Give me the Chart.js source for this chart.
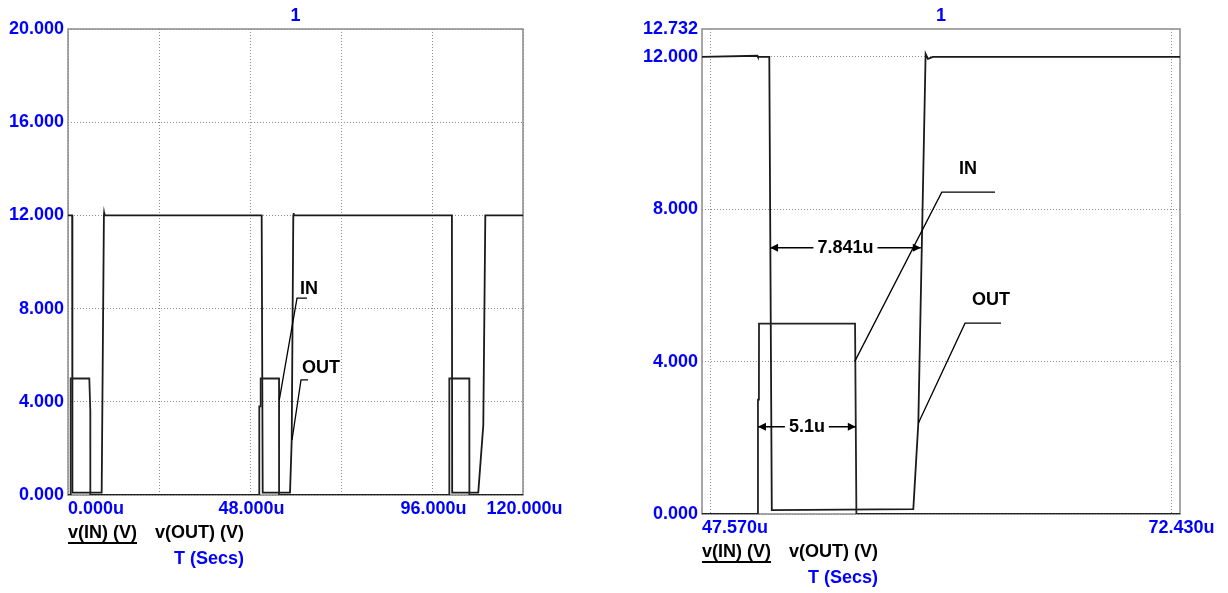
<!DOCTYPE html>
<html>
<head>
<meta charset="utf-8">
<script src="https://cdn.jsdelivr.net/npm/chart.js@4.4.1/dist/chart.umd.min.js"></script>
<style>
  html, body { margin: 0; padding: 0; background: #fff; }
  #wrap { position: relative; width: 1228px; height: 593px; }
  .panel { position: absolute; top: 0; width: 614px; height: 593px; }
</style>
</head>
<body>
<div id="wrap">
  <div class="panel" style="left:0"><canvas id="fullChart" width="614" height="593"></canvas></div>
  <div class="panel" style="left:614px"><canvas id="zoomChart" width="614" height="593"></canvas></div>
</div>
<script>
// times in us, values in volts

// left plot: whole run 0..120u
var fullInT  = [0, 0.70, 0.71, 5.62, 5.88, 5.89, 50.44, 50.45, 50.80, 50.82, 55.65, 55.67, 100.55, 100.57, 105.84, 105.86, 120];
var fullInV  = [0, 0, 5, 5, 3.65, 0, 0, 3.8, 3.8, 5, 5, 0, 0, 5, 5, 0, 0];
var fullOutT = [0, 1.10, 1.16, 8.88, 9.47, 9.52, 9.62, 51.08, 51.35, 58.55, 59.00, 59.42, 59.47, 59.57, 101.25, 101.32, 108.20, 109.53, 110.06, 120];
var fullOutV = [12, 12, 0.1, 0.1, 12, 12.1, 12, 12, 0.1, 0.1, 2.36, 12, 12.1, 12, 12, 0.1, 0.1, 3.0, 12, 12];
var fullGridX  = [0, 24, 48, 72, 96, 120];
var fullLabelX = [0, 48, 96, 120];
var fullGridY  = [0, 4, 8, 12, 16, 20];
var fullLabelY = [0, 4, 8, 12, 16, 20];

// right plot: zoom 47.57u..72.43u
var zoomInT  = [47.57, 50.475, 50.48, 50.53, 50.535, 55.53, 55.60, 72.43];
var zoomInV  = [0, 0, 3.0, 3.0, 5.0, 5.0, 0, 0];
var zoomOutT = [47.57, 50.45, 50.48, 51.07, 51.20, 58.56, 58.82, 59.20, 59.32, 59.58, 72.43];
var zoomOutV = [12.0, 12.03, 12.0, 12.0, 0.1, 0.13, 2.38, 12.08, 11.95, 12.0, 12.0];
var zoomGridX  = [48, 72];
var zoomLabelX = [47.57, 72.43];
var zoomGridY  = [0, 4, 8, 12];
var zoomLabelY = [0, 4, 8, 12, 12.732];

var BLUE = '#0000ff';
var FONT = 'bold 18px "Liberation Sans", Arial, sans-serif';

function pts(t, v) {
  return t.map(function (x, i) { return { x: x, y: v[i] }; });
}

function arrowHead(ctx, x, y, dir) {
  ctx.beginPath();
  ctx.moveTo(x, y);
  ctx.lineTo(x - dir * 8, y - 4);
  ctx.lineTo(x - dir * 8, y + 4);
  ctx.closePath();
  ctx.fill();
}

function scopePlugin(cfg) {
  return {
    id: 'scope',
    beforeDatasetsDraw: function (chart) {
      var a = chart.chartArea, ctx = chart.ctx;
      ctx.save();
      ctx.strokeStyle = '#8a8a8a';
      ctx.lineWidth = 1.5;
      ctx.strokeRect(a.left, a.top, a.right - a.left, a.bottom - a.top);
      ctx.restore();
    },
    afterDraw: function (chart) {
      var a = chart.chartArea, ctx = chart.ctx;
      var xs = chart.scales.x, ys = chart.scales.y;
      ctx.save();
      ctx.font = FONT;
      ctx.textBaseline = 'middle';

      // title
      ctx.fillStyle = BLUE;
      ctx.textAlign = 'center';
      ctx.fillText('1', (a.left + a.right) / 2, 16);

      // y tick labels
      ctx.textAlign = 'right';
      cfg.labelY.forEach(function (v) {
        ctx.fillText(v.toFixed(3), a.left - 4, ys.getPixelForValue(v));
      });

      // x tick labels
      cfg.labelX.forEach(function (v, i) {
        ctx.textAlign = i === 0 ? 'left' : 'center';
        var x = xs.getPixelForValue(v) + (i === 0 ? 0 : 1.5);
        ctx.fillText(v.toFixed(3) + 'u', x, a.bottom + 14);
      });

      // trace names and axis name
      ctx.fillStyle = '#000';
      ctx.textAlign = 'left';
      var yLeg = a.bottom + 38;
      var wIn = ctx.measureText('v(IN) (V)').width;
      ctx.fillText('v(IN) (V)', a.left, yLeg);
      ctx.fillRect(a.left, yLeg + 9, wIn, 2);
      var xOut = a.left + wIn + 18;
      ctx.fillText('v(OUT) (V)', xOut, yLeg);
      var wOut = ctx.measureText('v(OUT) (V)').width;
      ctx.fillStyle = BLUE;
      ctx.textAlign = 'right';
      ctx.fillText('T (Secs)', xOut + wOut, a.bottom + 64);

      // callouts
      ctx.fillStyle = '#000';
      ctx.strokeStyle = '#000';
      ctx.lineWidth = 1.3;
      cfg.callouts.forEach(function (c) {
        ctx.beginPath();
        ctx.moveTo(xs.getPixelForValue(c.at[0]), ys.getPixelForValue(c.at[1]));
        ctx.lineTo(xs.getPixelForValue(c.elbow[0]), ys.getPixelForValue(c.elbow[1]));
        ctx.lineTo(xs.getPixelForValue(c.end), ys.getPixelForValue(c.elbow[1]));
        ctx.stroke();
        ctx.textAlign = 'left';
        ctx.fillText(c.text, xs.getPixelForValue(c.label[0]), ys.getPixelForValue(c.label[1]));
      });

      // time measurements
      (cfg.measures || []).forEach(function (m) {
        var x1 = xs.getPixelForValue(m.t1), x2 = xs.getPixelForValue(m.t2);
        var y = ys.getPixelForValue(m.v);
        var xm = (x1 + x2) / 2;
        var w = ctx.measureText(m.text).width;
        ctx.lineWidth = 1.5;
        ctx.beginPath();
        ctx.moveTo(x1, y); ctx.lineTo(xm - w / 2 - 4, y);
        ctx.moveTo(xm + w / 2 + 4, y); ctx.lineTo(x2, y);
        ctx.stroke();
        arrowHead(ctx, x1, y, -1);
        arrowHead(ctx, x2, y, 1);
        ctx.textAlign = 'center';
        ctx.fillText(m.text, xm, y);
      });
      ctx.restore();
    }
  };
}

function makeChart(id, cfg) {
  var tickSetter = function (list) {
    return function (s) { s.ticks = list.map(function (v) { return { value: v }; }); };
  };
  return new Chart(document.getElementById(id), {
    type: 'line',
    data: {
      datasets: [
        { label: 'v(IN)', data: pts(cfg.inT, cfg.inV), borderColor: '#222', borderWidth: 1.8,
          pointRadius: 0, tension: 0, fill: false },
        { label: 'v(OUT)', data: pts(cfg.outT, cfg.outV), borderColor: '#1a1a1a', borderWidth: 1.8,
          pointRadius: 0, tension: 0, fill: false }
      ]
    },
    options: {
      responsive: false,
      animation: false,
      layout: { padding: cfg.padding },
      plugins: { legend: { display: false }, tooltip: { enabled: false } },
      scales: {
        x: {
          type: 'linear', min: cfg.xMin, max: cfg.xMax,
          afterBuildTicks: tickSetter(cfg.gridX),
          ticks: { display: false },
          grid: { color: '#8f8f8f', lineWidth: 1, drawTicks: false },
          border: { display: false, dash: [1, 2] }
        },
        y: {
          type: 'linear', min: 0, max: cfg.yMax,
          afterBuildTicks: tickSetter(cfg.gridY),
          ticks: { display: false },
          grid: { color: '#8f8f8f', lineWidth: 1, drawTicks: false },
          border: { display: false, dash: [1, 2] }
        }
      }
    },
    plugins: [scopePlugin(cfg)]
  });
}

makeChart('fullChart', {
  inT: fullInT, inV: fullInV, outT: fullOutT, outV: fullOutV,
  xMin: 0, xMax: 120, yMax: 20,
  gridX: fullGridX, labelX: fullLabelX, gridY: fullGridY, labelY: fullLabelY,
  padding: { left: 68, top: 29, right: 91, bottom: 98 },
  callouts: [
    { text: 'IN',  at: [55.73, 4.08], elbow: [60.4, 8.45], end: 63.03, label: [61.19, 8.82] },
    { text: 'OUT', at: [59.08, 2.36], elbow: [61.45, 4.94], end: 63.3, label: [61.71, 5.47] }
  ]
});

makeChart('zoomChart', {
  inT: zoomInT, inV: zoomInV, outT: zoomOutT, outV: zoomOutV,
  xMin: 47.57, xMax: 72.43, yMax: 12.732,
  gridX: zoomGridX, labelX: zoomLabelX, gridY: zoomGridY, labelY: zoomLabelY,
  padding: { left: 88, top: 29, right: 48, bottom: 79 },
  callouts: [
    { text: 'IN',  at: [55.51, 4.0], elbow: [60.04, 8.45], end: 62.81, label: [60.94, 9.05] },
    { text: 'OUT', at: [58.82, 2.38], elbow: [61.25, 5.01], end: 63.12, label: [61.61, 5.62] }
  ],
  measures: [
    { text: '7.841u', t1: 51.11, t2: 58.95, v: 6.99 },
    { text: '5.1u', t1: 50.48, t2: 55.57, v: 2.29 }
  ]
});
</script>
</body>
</html>
